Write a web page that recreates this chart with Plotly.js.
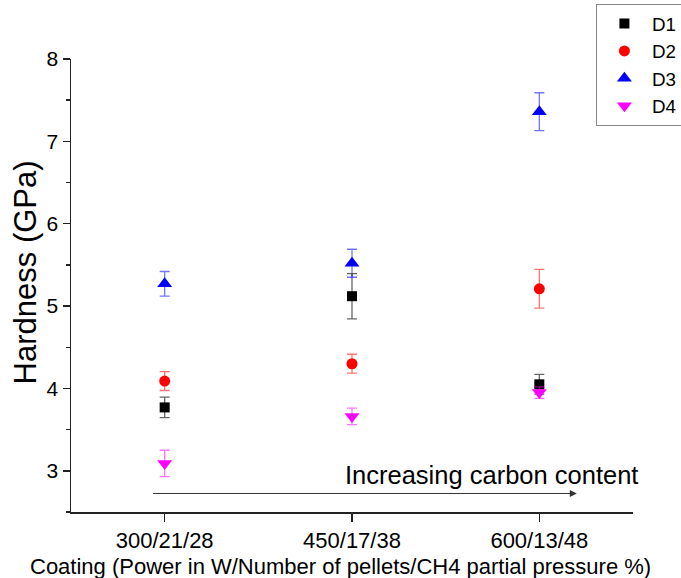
<!DOCTYPE html>
<html>
<head>
<meta charset="utf-8">
<script src="https://cdn.plot.ly/plotly-3.0.1.min.js"></script>
<style>html,body{margin:0;padding:0;background:#fff;}#chart{width:681px;height:578px;}</style>
</head>
<body>
<div id="chart"></div>
<script>
const coatings = ["300/21/28", "450/17/38", "600/13/48"];
const d1 = [3.77, 5.12, 4.05];
const d1Err = [0.125, 0.275, 0.12];
const d2 = [4.09, 4.30, 5.21];
const d2Err = [0.115, 0.115, 0.235];
const d3 = [5.27, 5.52, 7.36];
const d3Err = [0.15, 0.17, 0.23];
const d4 = [3.09, 3.66, 3.95];
const d4Err = [0.16, 0.10, 0.07];
const seriesNames = ["D1", "D2", "D3", "D4"];

const FONT = "Liberation Sans, Arial, sans-serif";

function mk(name, y, err, color, errColor, symbol, size) {
  return {
    type: "scatter", mode: "markers", name: name,
    x: coatings, y: y,
    marker: {symbol: symbol, size: size, color: color, line: {width: 0}},
    error_y: {type: "data", array: err, visible: true, color: errColor, thickness: 1.3, width: 5}
  };
}

const data = [
  mk(seriesNames[0], d1, d1Err, "#000000", "rgba(0,0,0,0.6)", "square", 10),
  mk(seriesNames[1], d2, d2Err, "#ff0000", "rgba(255,0,0,0.55)", "circle", 11),
  mk(seriesNames[2], d3, d3Err, "#0000ff", "rgba(0,0,255,0.55)", "triangle-up", 13),
  mk(seriesNames[3], d4, d4Err, "#ff00ff", "rgba(255,0,255,0.55)", "triangle-down", 13)
];

const layout = {
  width: 681, height: 578,
  margin: {l: 71, r: 48, t: 59, b: 66, autoexpand: false},
  paper_bgcolor: "#fff", plot_bgcolor: "#fff",
  font: {family: FONT, color: "#000"},
  showlegend: true,
  legend: {
    x: 0.934, y: 1.122, xanchor: "left", yanchor: "top",
    bordercolor: "#888", borderwidth: 1, bgcolor: "#fff",
    itemwidth: 45,
    font: {size: 18.8, family: FONT, color: "#000"}
  },
  xaxis: {
    type: "category", range: [-0.5, 2.5],
    showline: true, linecolor: "#222", linewidth: 1.5,
    ticks: "outside", ticklen: 8, tickwidth: 1.5, tickcolor: "#222",
    showgrid: false, zeroline: false,
    tickfont: {size: 22, family: FONT, color: "#000"}
  },
  yaxis: {
    range: [2.5, 8], dtick: 1,
    showline: true, linecolor: "#222", linewidth: 1.5,
    ticks: "outside", ticklen: 7, tickwidth: 1.5, tickcolor: "#222",
    minor: {dtick: 0.5, ticks: "outside", ticklen: 4, tickwidth: 1.5, tickcolor: "#222"},
    showgrid: false, zeroline: false,
    tickfont: {size: 21, family: FONT, color: "#000"}
  },
  annotations: [
    {xref: "paper", yref: "paper", x: 0.480, y: -0.121, xanchor: "center", yanchor: "middle",
     text: "Coating (Power in W/Number of pellets/CH4 partial pressure %)", showarrow: false,
     font: {size: 22, family: FONT, color: "#000"}},
    {xref: "paper", yref: "paper", x: -0.081, y: 0.53, xanchor: "center", yanchor: "middle",
     text: "Hardness (GPa)", textangle: -90, showarrow: false,
     font: {size: 31, family: FONT, color: "#000"}},
    {xref: "x", yref: "y", x: 1.746, y: 2.95, xanchor: "center", yanchor: "middle",
     text: "Increasing carbon content", showarrow: false,
     font: {size: 25.5, family: FONT, color: "#000"}},
    {xref: "x", yref: "y", axref: "x", ayref: "y", x: 2.2, y: 2.725, ax: -0.07, ay: 2.725,
     text: "", showarrow: true, arrowhead: 2, arrowsize: 1.4, arrowwidth: 1, arrowcolor: "#333"}
  ]
};

Plotly.newPlot("chart", data, layout, {displayModeBar: false, staticPlot: true});
</script>
</body>
</html>
